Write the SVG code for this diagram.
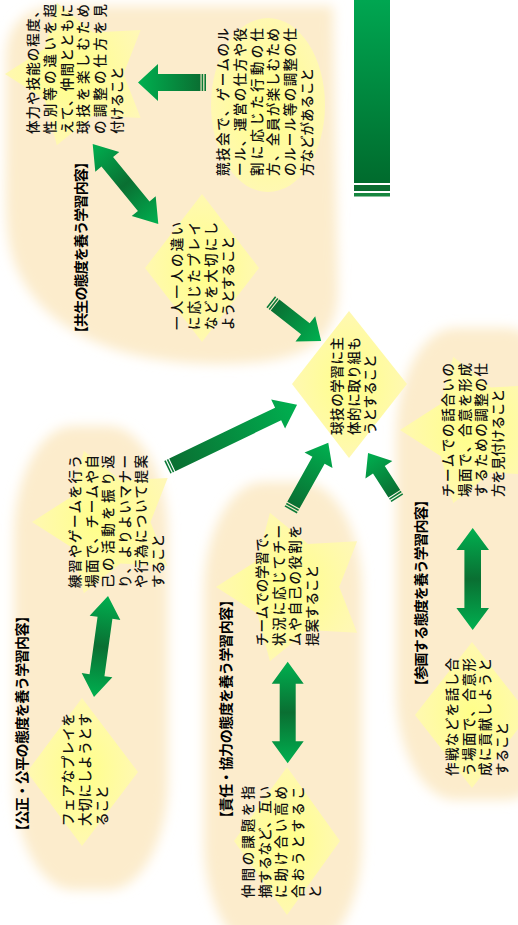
<svg xmlns="http://www.w3.org/2000/svg" xmlns:xlink="http://www.w3.org/1999/xlink" width="518" height="925" viewBox="0 0 518 925">
<style>
.t{font-family:"Noto Sans CJK JP","Noto Sans CJK SC",sans-serif;font-size:13.5px;font-weight:500;fill:#111;}
.h{font-family:"Noto Sans CJK JP","Noto Sans CJK SC",sans-serif;font-size:14px;font-weight:bold;fill:#000;}
.bg{fill:#FCECCC;filter:url(#soft);}
.y{fill:url(#yg);}
.a1{fill:url(#ag1);}
.a2{fill:url(#ag2);}
.st{fill:#0B7A36;}
</style>
<defs>
<filter id="soft" x="-30%" y="-30%" width="160%" height="160%"><feGaussianBlur stdDeviation="6"/></filter>
<radialGradient id="yg" cx="0.5" cy="0.5" r="0.6"><stop offset="0" stop-color="#FFFF88"/><stop offset="1" stop-color="#FFF7BA"/></radialGradient>
<linearGradient id="ag1" x1="0" y1="0" x2="1" y2="0"><stop offset="0" stop-color="#0A6F32"/><stop offset="1" stop-color="#00B050"/></linearGradient>
<linearGradient id="ag2" x1="0" y1="0" x2="1" y2="0"><stop offset="0" stop-color="#00B050"/><stop offset="0.5" stop-color="#0A6F32"/><stop offset="1" stop-color="#00B050"/></linearGradient>
<linearGradient id="bar" x1="0" y1="0" x2="0" y2="1"><stop offset="0" stop-color="#00A651"/><stop offset="1" stop-color="#006B2D"/></linearGradient>
<polygon id="star" points="-100,0 -46.9,-34.1 -30.9,-95.1 17.9,-55.2 80.9,-58.8 58,0 80.9,58.8 17.9,55.2 -30.9,95.1 -46.9,34.1"/>
</defs>
<rect x="0" y="0" width="518" height="925" fill="#fff"/>

<g id="backgrounds">
<path class="bg" d="M60,6 L333,6 L338,290 C338,345 300,364 220,364 C120,364 40,332 14,262 C4,232 6,200 6,150 L6,60 C6,25 25,6 60,6 Z"/>
<rect class="bg" x="14" y="426" width="154" height="464" rx="60" ry="110"/>
<rect class="bg" x="204" y="482" width="158" height="470" rx="60" ry="110"/>
<rect class="bg" x="396" y="328" width="170" height="472" rx="60" ry="110"/>
</g>

<g id="title-bar">
<rect x="354" y="0" width="36" height="183" fill="url(#bar)"/>
<rect x="354" y="185" width="36" height="6" fill="#0A6B30"/>
<rect x="354" y="193" width="36" height="3.5" fill="#17863F"/>
</g>

<g id="label-kyousei"><text class="h" transform="translate(85.5,340) rotate(-90)" textLength="185" lengthAdjust="spacing">【共生の態度を養う学習内容】</text></g>
<g id="label-kousei"><text class="h" transform="translate(27,838) rotate(-90)" textLength="229" lengthAdjust="spacing">【公正・公平の態度を養う学習内容】</text></g>
<g id="label-sekinin"><text class="h" transform="translate(230.5,825) rotate(-90)" textLength="232" lengthAdjust="spacing">【責任・協力の態度を養う学習内容】</text></g>
<g id="label-sankaku"><text class="h" transform="translate(425.5,693) rotate(-90)" textLength="200" lengthAdjust="spacing">【参画する態度を養う学習内容】</text></g>

<g id="node-tairyoku">
<use xlink:href="#star" class="y" transform="translate(80,74) scale(0.75)"/>
<text class="t" transform="translate(38,134) rotate(-90)">
<tspan x="0" y="0" textLength="130" lengthAdjust="spacing">体力や技能の程度、</tspan>
<tspan x="0" y="16.8" textLength="130" lengthAdjust="spacing">性別等の違いを超</tspan>
<tspan x="0" y="33.6" textLength="130" lengthAdjust="spacing">えて、仲間とともに</tspan>
<tspan x="0" y="50.4" textLength="130" lengthAdjust="spacing">球技を楽しむため</tspan>
<tspan x="0" y="67.2" textLength="130" lengthAdjust="spacing">の調整の仕方を見</tspan>
<tspan x="0" y="84">付けること</tspan>
</text>
</g>

<g id="node-kyougikai">
<ellipse class="y" cx="268" cy="105" rx="57" ry="87"/>
<text class="t" transform="translate(228,176) rotate(-90)">
<tspan x="0" y="0" textLength="148" lengthAdjust="spacing">競技会で、ゲームのル</tspan>
<tspan x="0" y="16.8" textLength="148" lengthAdjust="spacing">ール、運営の仕方や役</tspan>
<tspan x="0" y="33.6" textLength="148" lengthAdjust="spacing">割に応じた行動の仕</tspan>
<tspan x="0" y="50.4" textLength="148" lengthAdjust="spacing">方、全員が楽しむため</tspan>
<tspan x="0" y="67.2" textLength="148" lengthAdjust="spacing">のルール等の調整の仕</tspan>
<tspan x="0" y="84">方などがあること</tspan>
</text>
</g>

<g id="node-hitori">
<polygon class="y" points="202,194 259,268 202,342 145,268"/>
<text class="t" transform="translate(182,330) rotate(-90)">
<tspan x="0" y="0" textLength="108" lengthAdjust="spacing">一人一人の違い</tspan>
<tspan x="0" y="17" textLength="108" lengthAdjust="spacing">に応じたプレイ</tspan>
<tspan x="0" y="34" textLength="108" lengthAdjust="spacing">などを大切にし</tspan>
<tspan x="0" y="51">ようとすること</tspan>
</text>
</g>

<g id="node-center">
<polygon class="y" points="349,311 407,384 349,458 292,384"/>
<text class="t" transform="translate(342,435) rotate(-90)">
<tspan x="0" y="0" textLength="98" lengthAdjust="spacing">球技の学習に主</tspan>
<tspan x="0" y="16.5" textLength="98" lengthAdjust="spacing">体的に取り組も</tspan>
<tspan x="0" y="33">うとすること</tspan>
</text>
</g>

<g id="node-hanashiai">
<use xlink:href="#star" class="y" transform="translate(477,430) scale(0.77)"/>
<text class="t" transform="translate(453,497) rotate(-90)">
<tspan x="0" y="0" textLength="134" lengthAdjust="spacing">チームでの話合いの</tspan>
<tspan x="0" y="16.7" textLength="134" lengthAdjust="spacing">場面で、合意を形成</tspan>
<tspan x="0" y="33.4" textLength="134" lengthAdjust="spacing">するための調整の仕</tspan>
<tspan x="0" y="50.1">方を見付けること</tspan>
</text>
</g>

<g id="node-renshu">
<use xlink:href="#star" class="y" transform="translate(107,522) scale(0.75)"/>
<text class="t" transform="translate(80,588) rotate(-90)">
<tspan x="0" y="0" textLength="133" lengthAdjust="spacing">練習やゲームを行う</tspan>
<tspan x="0" y="16.6" textLength="133" lengthAdjust="spacing">場面で、チームや自</tspan>
<tspan x="0" y="33.2" textLength="133" lengthAdjust="spacing">己の活動を振り返</tspan>
<tspan x="0" y="49.8" textLength="133" lengthAdjust="spacing">り、よりよいマナー</tspan>
<tspan x="0" y="66.4" textLength="133" lengthAdjust="spacing">や行為について提案</tspan>
<tspan x="0" y="83">すること</tspan>
</text>
</g>

<g id="node-team">
<use xlink:href="#star" class="y" transform="translate(294,587) scale(0.78)"/>
<text class="t" transform="translate(267,646) rotate(-90)">
<tspan x="0" y="0" textLength="121" lengthAdjust="spacing">チームでの学習で、</tspan>
<tspan x="0" y="16.5" textLength="121" lengthAdjust="spacing">状況に応じてチー</tspan>
<tspan x="0" y="33" textLength="121" lengthAdjust="spacing">ムや自己の役割を</tspan>
<tspan x="0" y="49.5">提案すること</tspan>
</text>
</g>

<g id="node-sakusen">
<polygon class="y" points="472,642 529,715 472,788 415,715"/>
<text class="t" transform="translate(457,776) rotate(-90)">
<tspan x="0" y="0" textLength="118" lengthAdjust="spacing">作戦などを話し合</tspan>
<tspan x="0" y="16.7" textLength="118" lengthAdjust="spacing">う場面で、合意形</tspan>
<tspan x="0" y="33.4" textLength="118" lengthAdjust="spacing">成に貢献しようと</tspan>
<tspan x="0" y="50.1">すること</tspan>
</text>
</g>

<g id="node-fair">
<polygon class="y" points="82,698 138,772 82,846 27,772"/>
<text class="t" transform="translate(73,826) rotate(-90)">
<tspan x="0" y="0" textLength="113" lengthAdjust="spacing">フェアなプレイを</tspan>
<tspan x="0" y="17" textLength="113" lengthAdjust="spacing">大切にしようとす</tspan>
<tspan x="0" y="34">ること</tspan>
</text>
</g>

<g id="node-nakama">
<polygon class="y" points="287,767 340,841 287,915 234,841"/>
<text class="t" transform="translate(253,898) rotate(-90)">
<tspan x="0" y="0" textLength="112" lengthAdjust="spacing">仲間の課題を指</tspan>
<tspan x="0" y="16.7" textLength="112" lengthAdjust="spacing">摘するなど、互い</tspan>
<tspan x="0" y="33.4" textLength="112" lengthAdjust="spacing">に助け合い高め</tspan>
<tspan x="0" y="50.1" textLength="112" lengthAdjust="spacing">合おうとするこ</tspan>
<tspan x="0" y="66.8">と</tspan>
</text>
</g>

<g id="connectors">
<g transform="translate(206,82.5) rotate(180)">
<rect class="st" x="0" y="-8.5" width="1.6" height="17"/><rect class="st" x="2.8" y="-8.5" width="1.6" height="17"/>
<polygon class="a1" points="5.5,-8.5 48,-8.5 48,-18.5 68,0 48,18.5 48,8.5 5.5,8.5"/>
</g>
<g transform="translate(270.7,301.7) rotate(38)">
<rect class="st" x="0" y="-7" width="1.6" height="14"/><rect class="st" x="2.8" y="-7" width="1.6" height="14"/>
<polygon class="a1" points="5.5,-7 44,-7 44,-16 64,0 44,16 44,7 5.5,7"/>
</g>
<g transform="translate(167.3,467.3) rotate(-25.7)">
<rect class="st" x="0" y="-7" width="1.6" height="14"/><rect class="st" x="2.8" y="-7" width="1.6" height="14"/>
<polygon class="a1" points="5.5,-7 123,-7 123,-16 144,0 123,16 123,7 5.5,7"/>
</g>
<g transform="translate(290.7,510) rotate(-60.8)">
<rect class="st" x="0" y="-7" width="1.6" height="14"/><rect class="st" x="2.8" y="-7" width="1.6" height="14"/>
<polygon class="a1" points="5.5,-7 57,-7 57,-16 77,0 57,16 57,7 5.5,7"/>
</g>
<g transform="translate(397.3,498.3) rotate(-122.8)">
<rect class="st" x="0" y="-7" width="1.6" height="14"/><rect class="st" x="2.8" y="-7" width="1.6" height="14"/>
<polygon class="a1" points="5.5,-7 34,-7 34,-16 54,0 34,16 34,7 5.5,7"/>
</g>
<polygon class="a2" transform="translate(125.5,184) rotate(50.6)" points="-51.7,0 -28.7,-15.5 -28.7,-7.5 28.7,-7.5 28.7,-15.5 51.7,0 28.7,15.5 28.7,7.5 -28.7,7.5 -28.7,15.5"/>
<polygon class="a2" transform="translate(101,646.5) rotate(97.9)" points="-51,0 -29,-15.5 -29,-7.5 29,-7.5 29,-15.5 51,0 29,15.5 29,7.5 -29,7.5 -29,15.5"/>
<polygon class="a2" transform="translate(472.7,579) rotate(90)" points="-51,0 -29,-16.3 -29,-8.3 29,-8.3 29,-16.3 51,0 29,16.3 29,8.3 -29,8.3 -29,16.3"/>
<polygon class="a2" transform="translate(287.7,712.5) rotate(90)" points="-50.8,0 -28.8,-16 -28.8,-8 28.8,-8 28.8,-16 50.8,0 28.8,16 28.8,8 -28.8,8 -28.8,16"/>
</g>
</svg>
